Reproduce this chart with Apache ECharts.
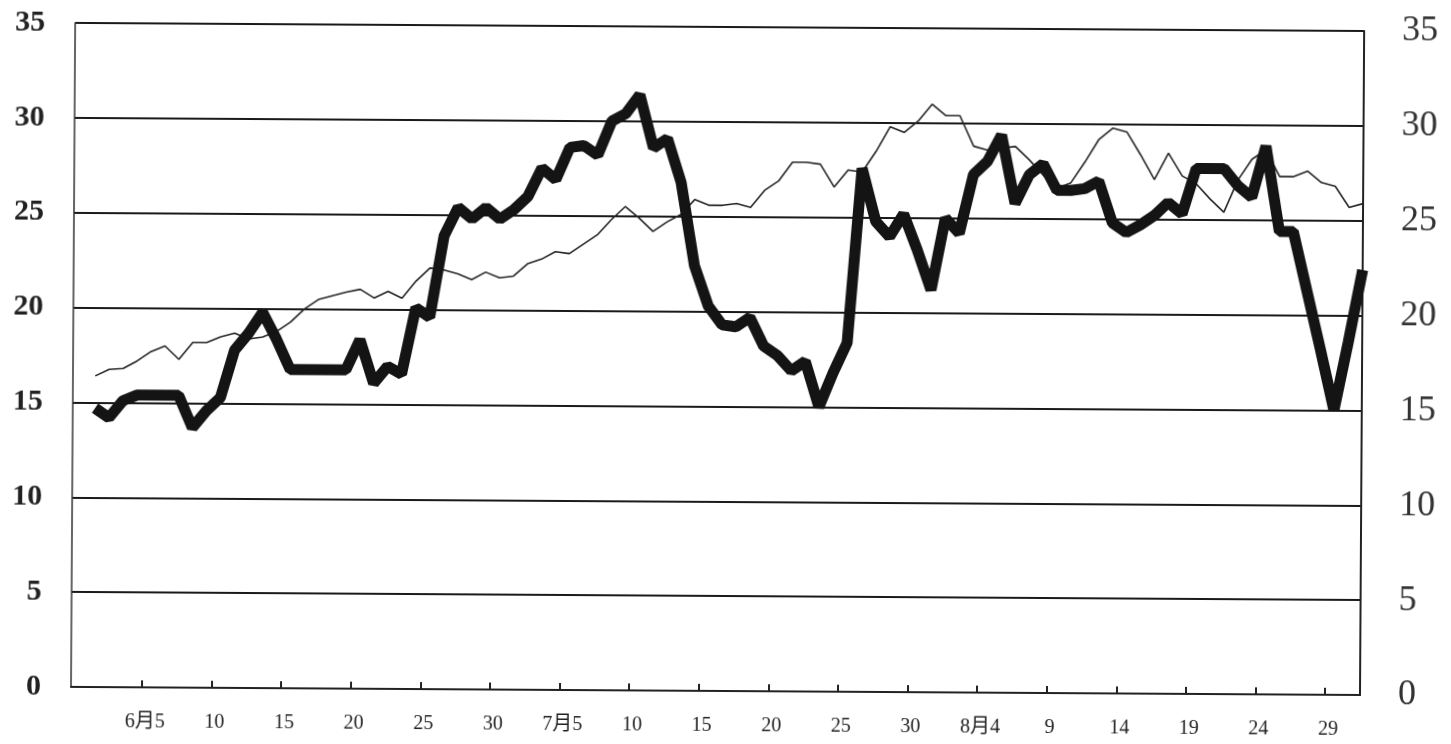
<!DOCTYPE html>
<html>
<head>
<meta charset="utf-8">
<script src="https://cdn.jsdelivr.net/npm/echarts@6/dist/echarts.min.js"></script>
<style>
  html, body { margin: 0; padding: 0; background: #fff; overflow: hidden; }
  /* the scan is slightly tilted, right side sits a few px lower */
  #chart { width: 1451px; height: 744px; transform: rotate(0.36deg); }
</style>
</head>
<body>
<div id="chart"></div>
<script>
// June 1 .. Aug 31, one value a day
const monthDays = [[6, 30], [7, 31], [8, 31]];

const tickDates = ['6-5', '6-10', '6-15', '6-20', '6-25', '6-30', '7-5', '7-10', '7-15',
  '7-20', '7-25', '7-30', '8-4', '8-9', '8-14', '8-19', '8-24', '8-29'];
const tickLabels = ['6月5', '10', '15', '20', '25', '30', '7月5', '10', '15',
  '20', '25', '30', '8月4', '9', '14', '19', '24', '29'];

// thick line
const thickValues = [
  14.7, 14.2, 15.1, 15.4, 15.4, 15.4, 15.4, 13.7, 14.6, 15.3,
  17.8, 18.7, 19.8, 18.4, 16.8, 16.8, 16.8, 16.8, 16.8, 18.4,
  16.1, 17.0, 16.6, 20.1, 19.6, 23.9, 25.4, 24.8, 25.4, 24.8,
  25.3, 26.0, 27.5, 26.9, 28.6, 28.7, 28.2, 30.0, 30.4, 31.4,
  28.6, 29.1, 26.8, 22.4, 20.3, 19.3, 19.2, 19.7, 18.2, 17.7,
  16.9, 17.4, 15.0, 16.8, 18.4, 27.6, 24.8, 24.0, 25.2, 23.3,
  21.2, 25.0, 24.2, 27.3, 28.0, 29.4, 25.8, 27.3, 27.9, 26.5,
  26.5, 26.6, 27.0, 24.8, 24.3, 24.7, 25.2, 25.9, 25.3, 27.7,
  27.7, 27.7, 26.8, 26.2, 28.9, 24.4, 24.4, 21.3, 18.2, 15.0,
  18.6, 22.4
];

// thin line
const thinValues = [
  16.4, 16.75, 16.8, 17.2, 17.7, 18.0, 17.3, 18.2, 18.2, 18.5,
  18.7, 18.4, 18.5, 18.8, 19.3, 20.0, 20.5, 20.7, 20.9, 21.05,
  20.6, 20.95, 20.6, 21.5, 22.2, 22.1, 21.9, 21.6, 22.0, 21.7,
  21.8, 22.45, 22.7, 23.1, 23.0, 23.5, 24.0, 24.8, 25.5, 24.9,
  24.2, 24.7, 25.1, 25.9, 25.6, 25.6, 25.7, 25.5, 26.4, 26.9,
  27.9, 27.9, 27.8, 26.6, 27.5, 27.4, 28.5, 29.8, 29.5, 30.1,
  31.0, 30.4, 30.4, 28.8, 28.6, 28.7, 28.8, 28.1, 27.3, 26.6,
  26.9, 28.0, 29.2, 29.8, 29.6, 28.4, 27.1, 28.5, 27.3, 26.9,
  26.1, 25.4, 27.1, 28.2, 28.7, 27.3, 27.3, 27.6, 27.0, 26.8,
  25.7, 25.9
];

const dates = [];
for (const [m, n] of monthDays) {
  for (let d = 1; d <= n; d++) dates.push(m + '-' + d);
}

// x = days since the start of June 1, each value sits at midday
const toPoints = vals => vals.map((v, i) => [i + 0.5, v]);
const tickPos = tickDates.map(d => dates.indexOf(d));
const labelMap = {};
tickPos.forEach((p, i) => { labelMap[p] = tickLabels[i]; });

const serif = "'Liberation Serif', 'DejaVu Serif', 'Noto Sans CJK SC', serif";

const chart = echarts.init(document.getElementById('chart'));
chart.setOption({
  animation: false,
  backgroundColor: '#fff',
  grid: { left: 73, right: 89, top: 27, bottom: 53 },
  xAxis: {
    type: 'value',
    min: -1.1,
    max: 91.5,
    axisLine: { show: true, onZero: false, lineStyle: { color: '#222', width: 2 } },
    axisTick: {
      show: true, inside: true, length: 7, customValues: tickPos,
      lineStyle: { color: '#222', width: 2 }
    },
    axisLabel: {
      customValues: tickPos,
      formatter: v => labelMap[Math.round(v)] || '',
      fontFamily: serif, fontSize: 20, color: '#222', margin: 25,
      padding: [0, 0, 0, 6]
    },
    splitLine: { show: false }
  },
  yAxis: [
    {
      type: 'value', min: 0, max: 35, interval: 5,
      axisLine: { show: true, onZero: false, lineStyle: { color: '#333', width: 1.5 } },
      axisTick: { show: false },
      axisLabel: {
        fontFamily: serif, fontWeight: 'bold', fontSize: 30, color: '#222', margin: 30
      },
      splitLine: { show: true, lineStyle: { color: '#1a1a1a', width: 2 } }
    },
    {
      type: 'value', min: 0, max: 35, interval: 5, position: 'right',
      axisLine: { show: true, onZero: false, lineStyle: { color: '#222', width: 2 } },
      axisTick: { show: false },
      axisLabel: {
        fontFamily: serif, fontSize: 36, color: '#333', margin: 38,
        padding: [8, 0, 0, 0]
      },
      splitLine: { show: false }
    }
  ],
  series: [
    {
      name: 'thin',
      type: 'line',
      data: toPoints(thinValues),
      showSymbol: false,
      lineStyle: { color: '#262626', width: 1.6 }
    },
    {
      name: 'thick',
      type: 'line',
      data: toPoints(thickValues),
      showSymbol: false,
      lineStyle: { color: '#141414', width: 11, join: 'bevel', cap: 'butt' }
    }
  ]
});
</script>
</body>
</html>
